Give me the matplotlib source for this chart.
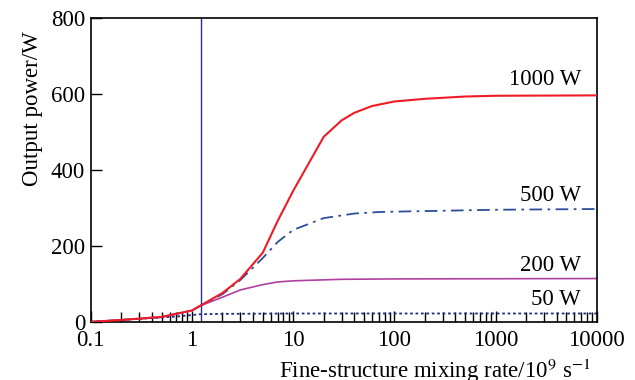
import matplotlib
matplotlib.use('Agg')
import matplotlib.pyplot as plt
import numpy as np
from matplotlib.ticker import LogLocator, NullFormatter

plt.rcParams['font.family'] = ['Liberation Serif', 'DejaVu Serif']
plt.rcParams['mathtext.fontset'] = 'stix'

# Data
x_1000 = [0.1, 0.2, 0.5, 1, 1.2, 2, 3, 5, 7, 10, 20, 30, 40, 60, 100, 200, 500, 1000, 10000]
y_1000 = [0, 5, 13, 30, 42, 76, 113, 182, 265, 345, 487, 530, 550, 568, 580, 587, 593, 595, 596]

x_500 = [0.1, 0.2, 0.5, 1, 1.2, 2, 3, 5, 7, 10, 20, 40, 70, 100, 1000, 10000]
y_500 = [0, 5, 13, 30, 42, 73, 110, 168, 210, 242, 273, 285, 289, 290, 295, 297]

x_200 = [0.1, 0.2, 0.5, 1, 1.2, 2, 3, 5, 7, 10, 30, 100, 10000]
y_200 = [0, 5, 12, 30, 42, 65, 84, 98, 105, 108, 112, 113, 114]

x_50 = [0.1, 0.3, 0.7, 1, 1.2, 2, 10, 10000]
y_50 = [0, 8, 14, 18, 20, 21, 22, 22]

v_line = 1.22
labels = ['1000 W', '500 W', '200 W', '50 W']
label_y = [638, 333, 148, 60]

fig = plt.figure(figsize=(6.35, 3.8), dpi=100)
ax = fig.add_axes([0.143, 0.153, 0.797, 0.800])

ax.plot(x_1000, y_1000, color='#ee1c25', lw=1.5, zorder=5)
ax.plot(x_500, y_500, color='#2e4d9c', lw=1.3, dashes=(7, 3, 1.5, 3))
ax.plot(x_200, y_200, color='#b0409f', lw=1.2)
ax.plot(x_50, y_50, color='#1f2a7a', lw=1.3, ls=(0, (1.5, 1.5)))
ax.axvline(v_line, color='#2b2f8f', lw=1.0)

for lab, ly in zip(labels, label_y):
    ax.text(7000, ly, lab, ha='right', va='center', fontsize=16.5)

ax.set_xscale('log')
ax.set_xlim(0.1, 10000)
ax.set_ylim(0, 800)
ax.set_xticks([0.1, 1, 10, 100, 1000, 10000])
ax.set_xticklabels(['0.1', '1', '10', '100', '1000', '10000'])
ax.xaxis.set_minor_locator(LogLocator(base=10, subs=np.arange(2, 10)))
ax.xaxis.set_minor_formatter(NullFormatter())
ax.set_yticks([0, 200, 400, 600, 800])

ax.tick_params(axis='both', which='both', direction='in', labelsize=16.5,
               top=False, right=False, width=1.0)
ax.tick_params(axis='x', which='major', length=8, pad=6)
ax.tick_params(axis='x', which='minor', length=7)
ax.tick_params(axis='y', which='major', length=8, pad=4)

for s in ax.spines.values():
    s.set_linewidth(1.2)

ax.set_ylabel('Output power/W', fontsize=16.5)
ax.yaxis.set_label_coords(-0.095, 0.70)
ax.set_xlabel('Fine-structure mixing rate/10$^{9}$ s$^{-1}$', fontsize=16.5)
ax.xaxis.set_label_coords(0.68, -0.115)

fig.savefig('out.png', dpi=100)
